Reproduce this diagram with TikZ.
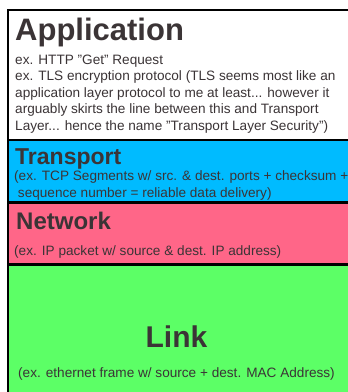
\documentclass[tikz,border=0pt]{standalone}
\usepackage{fontspec}
\setmainfont{Liberation Sans}
\definecolor{txt}{HTML}{3B3436}
\definecolor{tblue}{HTML}{00BBFF}
\definecolor{npink}{HTML}{FF6688}
\definecolor{lgreen}{HTML}{5CFF66}
\begin{document}
\begin{tikzpicture}[x=1pt,y=-1pt,
  layer/.style={draw=black, line width=2.5pt, anchor=north west, minimum width=360pt, inner sep=0pt, outer sep=0pt},
  title/.style={anchor=base west, inner sep=0pt, text=txt, font=\bfseries},
  body/.style={anchor=base west, inner sep=0pt, text=txt, font=\fontsize{13.6}{16.5}\selectfont, align=left}]
\useasboundingbox (0,0) rectangle (348,392);
\begin{scope}
\clip (0,0) rectangle (348,392);
\node[layer, fill=lgreen, minimum height=140pt] (link) at (8,264) {};
\node[layer, fill=npink, minimum height=62pt] (net) at (8,202.5) {};
\node[layer, fill=tblue, minimum height=62.5pt] (trans) at (8,140) {};
\node[layer, fill=white, minimum height=130pt] (app) at (8,10) {};
\end{scope}
\node[title, font=\bfseries\fontsize{31}{31}\selectfont] (appt) at (15,40) {Application};
\node[body] (appb) at (15,130) {ex. HTTP "Get" Request\\ex. TLS encryption protocol (TLS seems most like an\\application layer protocol to me at least... however it\\arguably skirts the line between this and Transport\\Layer... hence the name "Transport Layer Security")};
\node[title, font=\bfseries\fontsize{23}{23}\selectfont] (transt) at (15,164) {Transport};
\node[body] (transb) at (14,197) {(ex. TCP Segments w/ src. \& dest. ports + checksum +\\\ sequence number = reliable data delivery)};
\node[title, font=\bfseries\fontsize{24}{24}\selectfont] (nett) at (16,229) {Network};
\node[body] (netb) at (14,255) {(ex. IP packet w/ source \& dest. IP address)};
\node[title, font=\bfseries\fontsize{30}{30}\selectfont, anchor=base] (linkt) at (176.5,347) {Link};
\node[body] (linkb) at (18,377) {(ex. ethernet frame w/ source + dest. MAC Address)};
\end{tikzpicture}
\end{document}
